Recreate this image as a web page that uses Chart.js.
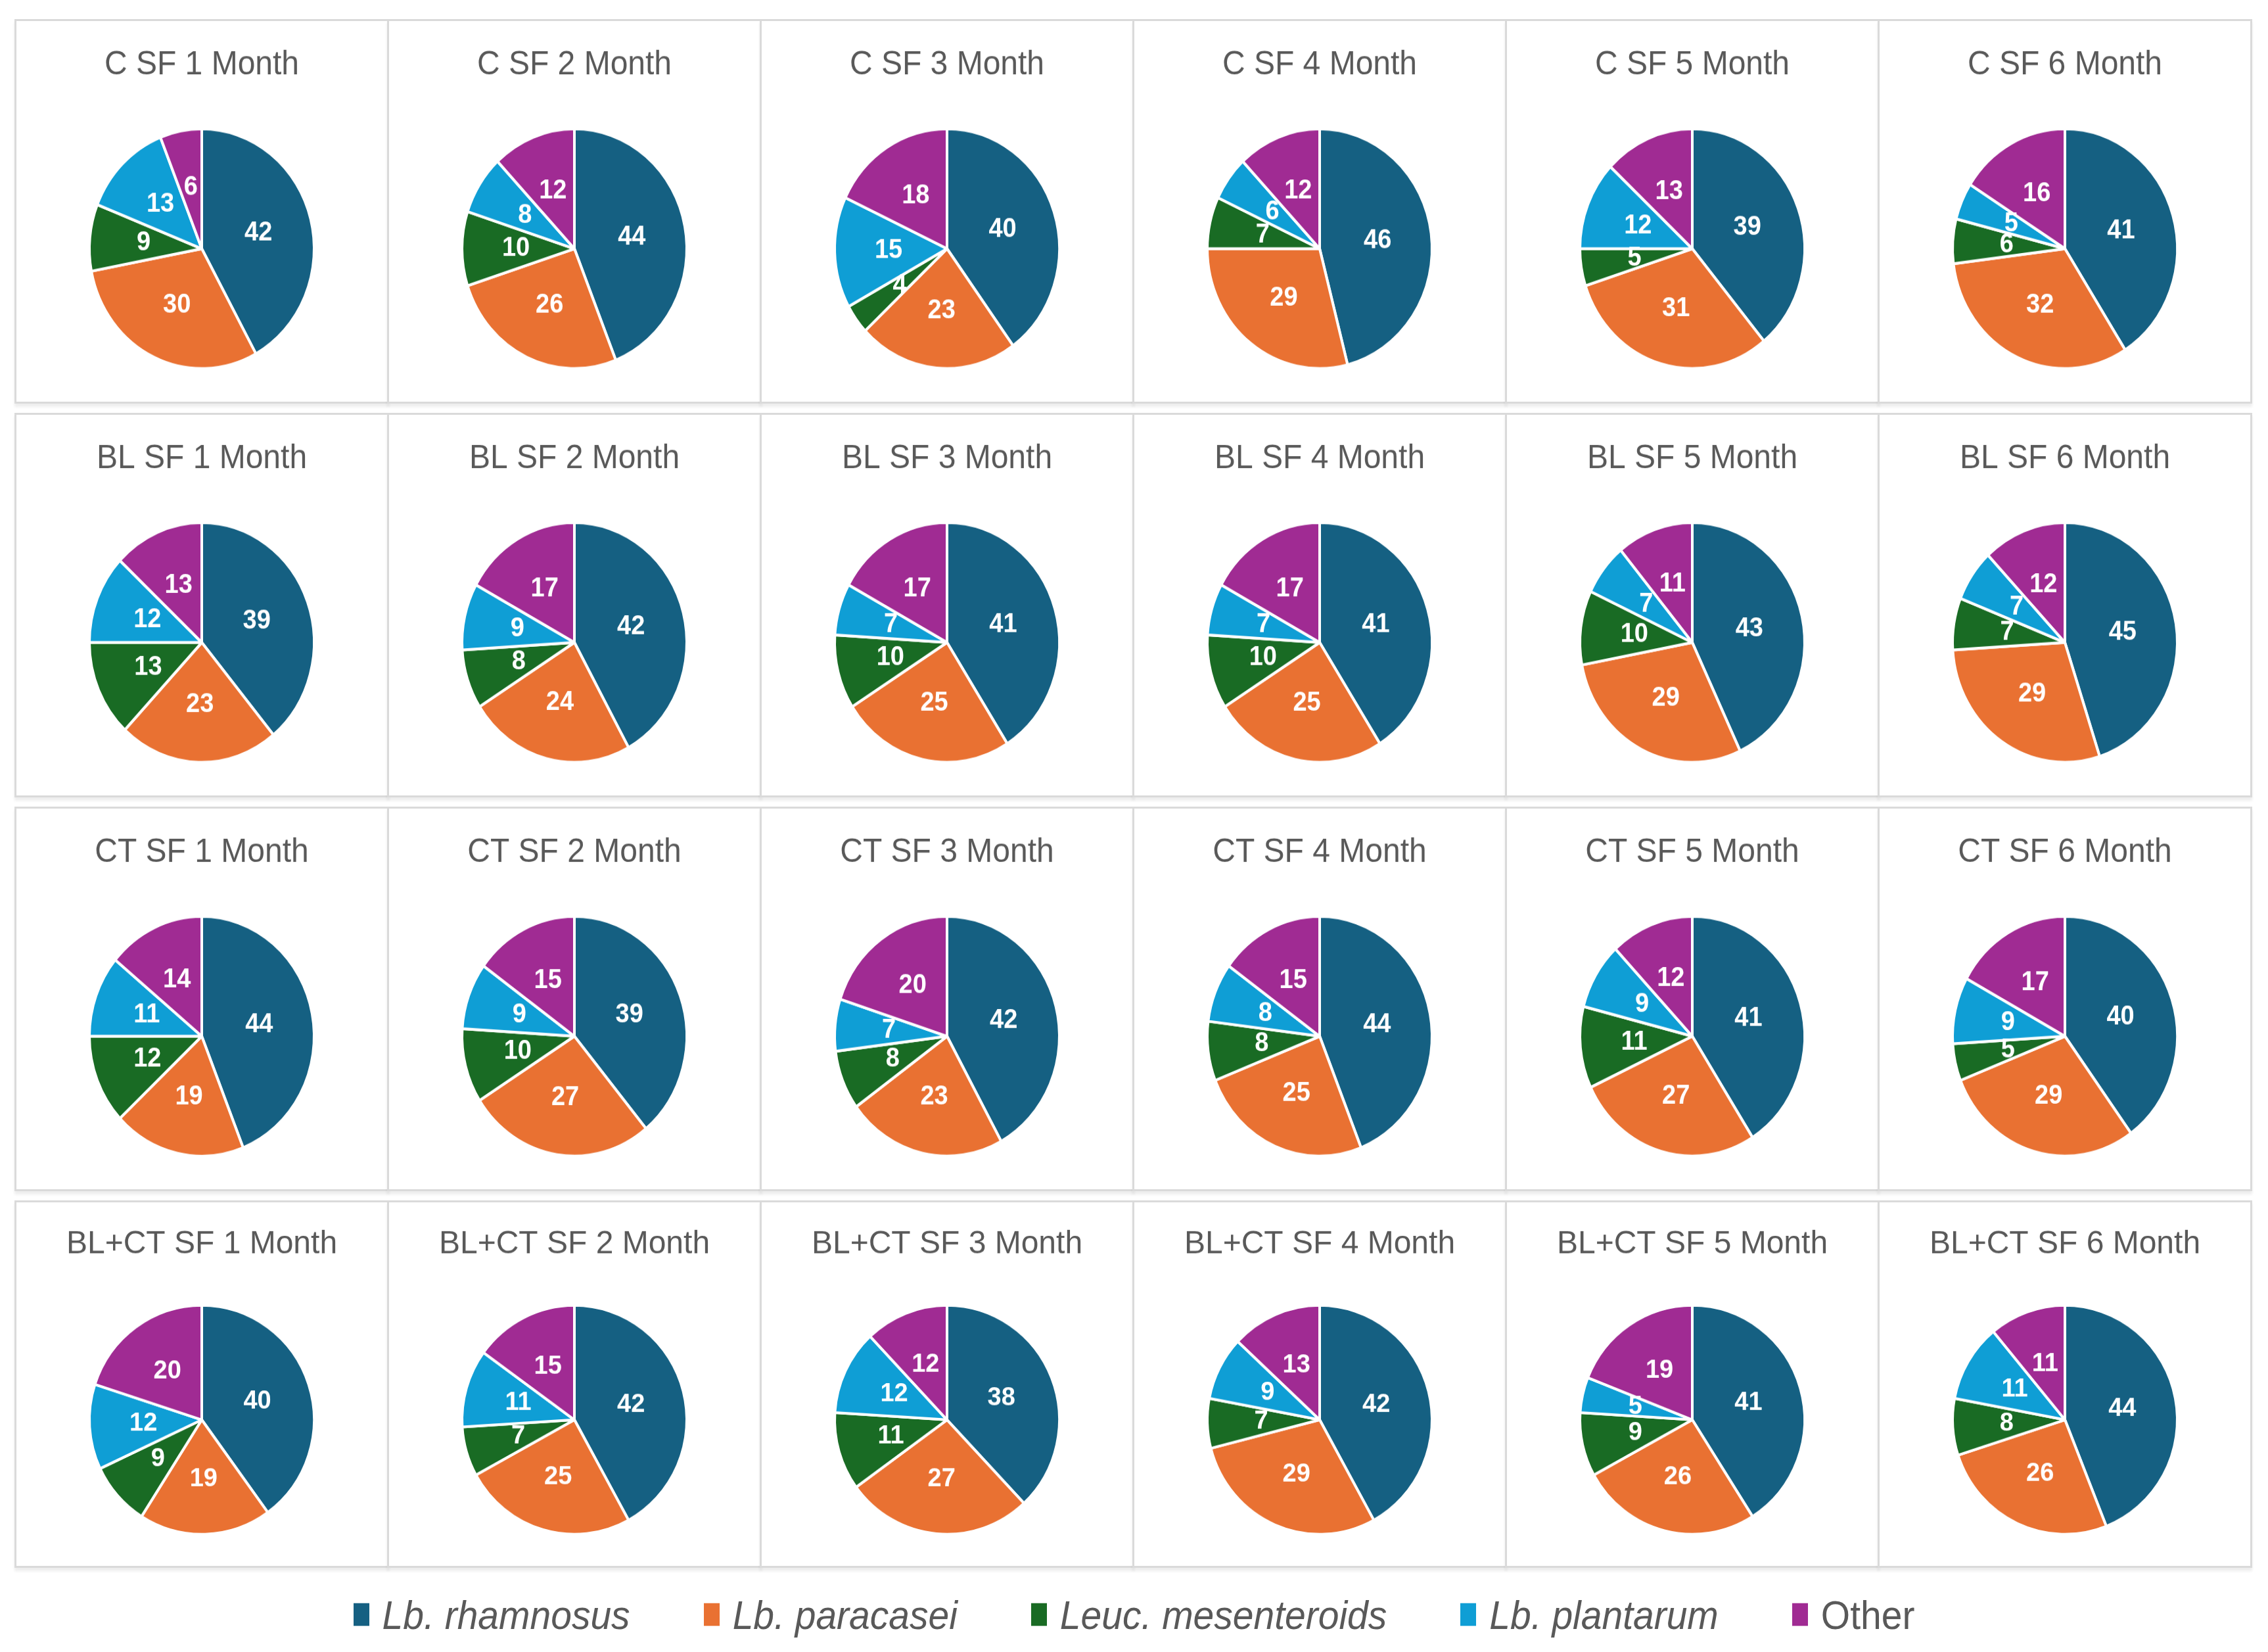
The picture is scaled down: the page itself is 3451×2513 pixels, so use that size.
<!DOCTYPE html>
<html>
<head>
<meta charset="utf-8">
<title>Species share by treatment and month</title>
<script src="https://cdn.jsdelivr.net/npm/chart.js@4.4.1/dist/chart.umd.min.js"></script>
<style>
  html, body { margin: 0; padding: 0; background: #fff; }
  #page { position: relative; width: 3451px; height: 2513px; background: #fff; overflow: hidden; }
  .panel {
    position: absolute;
    box-sizing: border-box;
    border: 3px solid #dadada;
    background: #fff;
    box-shadow: 0 5px 4px rgba(0, 0, 0, 0.07);
  }
  .wrap { position: absolute; left: 0; top: 0; width: 100%; height: 543px; transform-origin: 0 0; }
  #legend {
    position: absolute; left: 0; top: 2416px; width: 3451px; height: 80px;
    display: flex; justify-content: center; align-items: center; gap: 112px;
    font-family: 'Liberation Sans', Arial, sans-serif; font-size: 57px; color: #595959;
    transform: scaleY(1.08);
  }
  .item { display: flex; align-items: center; }
  .swatch { width: 24px; height: 32px; margin-right: 20px; }
</style>
</head>
<body>
<div id="page">
  <div id="legend"></div>
</div>
<script>
// ***** GLOBAL VARIABLES *****

let species = ['Lb. rhamnosus', 'Lb. paracasei', 'Leuc. mesenteroids', 'Lb. plantarum', 'Other'];
let speciesItalic = [true, true, true, true, false];
let colors = ['#156082', '#e97132', '#196b24', '#0f9ed5', '#a02b93'];

let groups = ['C SF', 'BL SF', 'CT SF', 'BL+CT SF'];
let months = ['1 Month', '2 Month', '3 Month', '4 Month', '5 Month', '6 Month'];

// each pie: [rhamnosus, paracasei, leuc, plantarum, other]
let cSF = [
  [42, 30, 9, 13, 6],
  [44, 26, 10, 8, 12],
  [40, 23, 4, 15, 18],
  [46, 29, 7, 6, 12],
  [39, 31, 5, 12, 13],
  [41, 32, 6, 5, 16]
];
let blSF = [
  [39, 23, 13, 12, 13],
  [42, 24, 8, 9, 17],
  [41, 25, 10, 7, 17],
  [41, 25, 10, 7, 17],
  [43, 29, 10, 7, 11],
  [45, 29, 7, 7, 12]
];
let ctSF = [
  [44, 19, 12, 11, 14],
  [39, 27, 10, 9, 15],
  [42, 23, 8, 7, 20],
  [44, 25, 8, 8, 15],
  [41, 27, 11, 9, 12],
  [40, 29, 5, 9, 17]
];
let blctSF = [
  [40, 19, 9, 12, 20],
  [42, 25, 7, 11, 15],
  [38, 27, 11, 12, 12],
  [42, 29, 7, 9, 13],
  [41, 26, 9, 5, 19],
  [44, 26, 8, 11, 11]
];
let groupData = [cSF, blSF, ctSF, blctSF];

// ***** DOM REF *****
let page = document.getElementById('page');
let legend = document.getElementById('legend');

// ***** LABEL PLUGIN *****
// white value in the middle of each slice
const pieLabels = {
  id: 'pieLabels',
  afterDatasetsDraw(chart) {
    let ctx = chart.ctx;
    let meta = chart.getDatasetMeta(0);
    let values = chart.data.datasets[0].data;
    ctx.save();
    ctx.fillStyle = '#ffffff';
    ctx.font = 'bold 38px "Liberation Sans", Arial, sans-serif';
    ctx.textAlign = 'center';
    ctx.textBaseline = 'middle';
    for (let i = 0; i < meta.data.length; i++) {
      let p = meta.data[i].getProps(['x', 'y', 'startAngle', 'endAngle', 'outerRadius'], true);
      let mid = (p.startAngle + p.endAngle) / 2;
      let r = p.outerRadius * 0.52;
      ctx.fillText(values[i], p.x + Math.cos(mid) * r, p.y + Math.sin(mid) * r);
    }
    ctx.restore();
  }
};

// ***** HELPER FUNC *****

function makePie(row, col) {
  let panel = document.createElement('div');
  panel.className = 'panel';
  let h = row < 3 ? 585 : 559;
  panel.style.left = (22 + col * 567) + 'px';
  panel.style.top = (29 + row * 599) + 'px';
  panel.style.width = '570px';
  panel.style.height = h + 'px';

  let wrap = document.createElement('div');
  wrap.className = 'wrap';
  // the source image is a little stretched vertically
  wrap.style.transform = 'scaleY(' + ((h - 6) / 543) + ')';
  let canvas = document.createElement('canvas');
  wrap.appendChild(canvas);
  panel.appendChild(wrap);
  page.appendChild(panel);

  new Chart(canvas.getContext('2d'), {
    type: 'pie',
    data: {
      labels: species,
      datasets: [{
        data: groupData[row][col],
        backgroundColor: colors,
        borderColor: '#ffffff',
        borderWidth: 4
      }]
    },
    options: {
      responsive: true,
      maintainAspectRatio: false,
      animation: false,
      devicePixelRatio: 1,
      radius: 171,
      layout: { padding: 0 },
      plugins: {
        legend: { display: false },
        tooltip: { enabled: false },
        title: {
          display: true,
          text: groups[row] + ' ' + months[col],
          color: '#595959',
          font: { family: '"Liberation Sans", Arial, sans-serif', size: 48, weight: 'normal' },
          padding: { top: 34, bottom: 15 }
        }
      }
    },
    plugins: [pieLabels]
  });
}

function renderLegend() {
  for (let i = 0; i < species.length; i++) {
    let item = document.createElement('div');
    item.className = 'item';
    let sw = document.createElement('span');
    sw.className = 'swatch';
    sw.style.background = colors[i];
    let txt = document.createElement('span');
    txt.textContent = species[i];
    if (speciesItalic[i]) {
      txt.style.fontStyle = 'italic';
    }
    item.appendChild(sw);
    item.appendChild(txt);
    legend.appendChild(item);
  }
}

// ***** RENDER *****
for (let r = 0; r < groups.length; r++) {
  for (let c = 0; c < months.length; c++) {
    makePie(r, c);
  }
}
renderLegend();
</script>
</body>
</html>
